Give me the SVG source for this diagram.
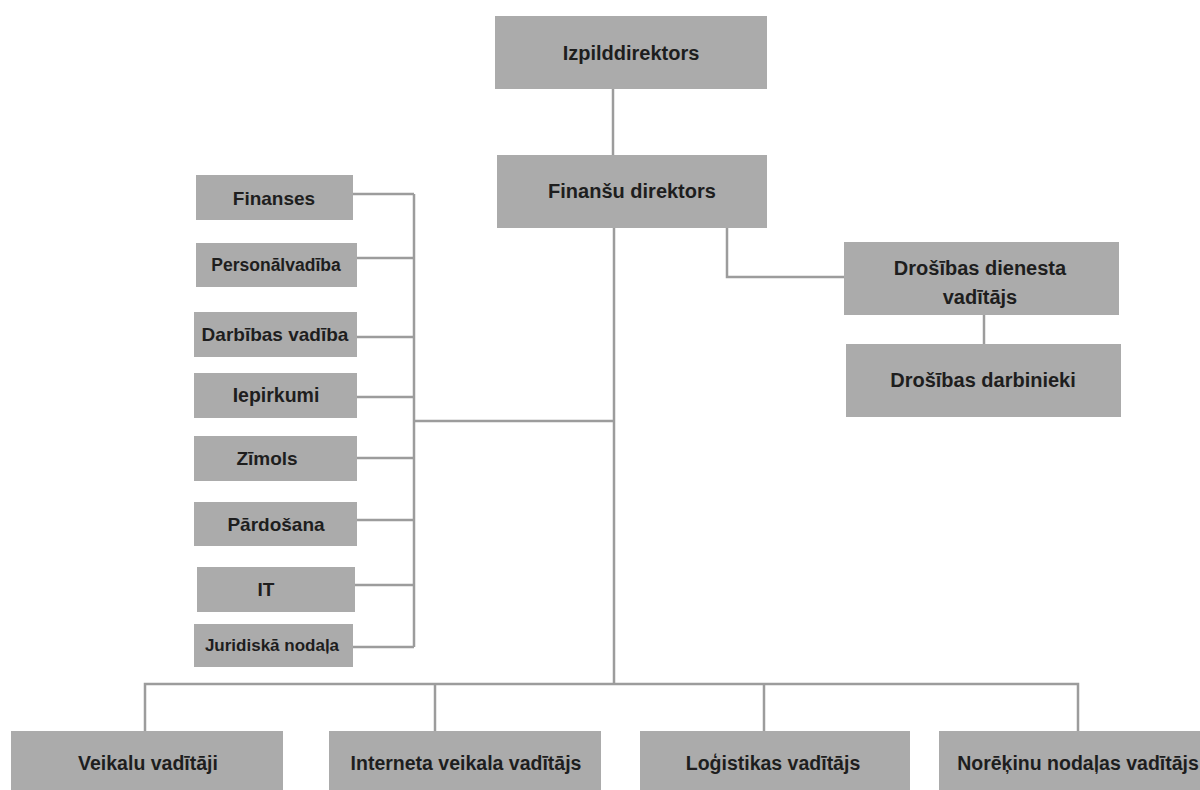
<svg xmlns="http://www.w3.org/2000/svg" width="1200" height="790" viewBox="0 0 1200 790">
<style>
.box{fill:#ababab;}
.t{font-family:"Liberation Sans",Arial,sans-serif;font-weight:bold;fill:#1e1e1e;text-anchor:middle;}
.l{stroke:#9c9c9c;stroke-width:2.5;fill:none;}
</style>
<rect width="1200" height="790" fill="#ffffff"/>
<g id="connectors">
<line class="l" x1="613" y1="89" x2="613" y2="155"/>
<line class="l" x1="614" y1="228" x2="614" y2="684"/>
<polyline class="l" points="727,228 727,277 844,277"/>
<line class="l" x1="984" y1="315" x2="984" y2="344"/>
<line class="l" x1="414" y1="194" x2="414" y2="647"/>
<line class="l" x1="414" y1="421" x2="614" y2="421"/>
<line class="l" x1="353" y1="194" x2="414" y2="194"/>
<line class="l" x1="357" y1="258" x2="414" y2="258"/>
<line class="l" x1="357" y1="337" x2="414" y2="337"/>
<line class="l" x1="357" y1="397" x2="414" y2="397"/>
<line class="l" x1="357" y1="458" x2="414" y2="458"/>
<line class="l" x1="357" y1="520" x2="414" y2="520"/>
<line class="l" x1="355" y1="585" x2="414" y2="585"/>
<line class="l" x1="353" y1="647" x2="414" y2="647"/>
<polyline class="l" points="145,731 145,684 1078,684 1078,731"/>
<line class="l" x1="435" y1="684" x2="435" y2="731"/>
<line class="l" x1="764" y1="684" x2="764" y2="731"/>
</g>
<g id="izpilddirektors"><rect class="box" x="495" y="16" width="272" height="73"/><text class="t" x="631" y="60" font-size="20">Izpilddirektors</text></g>
<g id="finansu-direktors"><rect class="box" x="497" y="155" width="270" height="73"/><text class="t" x="632" y="198" font-size="20">Finanšu direktors</text></g>
<g id="drosibas-vaditajs"><rect class="box" x="844" y="242" width="275" height="73"/><text class="t" x="980" y="275" font-size="20">Drošības dienesta</text><text class="t" x="980" y="304" font-size="20">vadītājs</text></g>
<g id="drosibas-darbinieki"><rect class="box" x="846" y="344" width="275" height="73"/><text class="t" x="983" y="387" font-size="20">Drošības darbinieki</text></g>
<g id="finanses"><rect class="box" x="196" y="175" width="157" height="45"/><text class="t" x="274" y="205" font-size="19">Finanses</text></g>
<g id="personalvadiba"><rect class="box" x="196" y="243" width="161" height="44"/><text class="t" x="276" y="271" font-size="17.5">Personālvadība</text></g>
<g id="darbibas-vadiba"><rect class="box" x="194" y="312" width="163" height="45"/><text class="t" x="275" y="341" font-size="19">Darbības vadība</text></g>
<g id="iepirkumi"><rect class="box" x="194" y="373" width="163" height="45"/><text class="t" x="276" y="402" font-size="19.5">Iepirkumi</text></g>
<g id="zimols"><rect class="box" x="194" y="436" width="163" height="45"/><text class="t" x="267" y="465" font-size="19">Zīmols</text></g>
<g id="pardosana"><rect class="box" x="194" y="502" width="163" height="44"/><text class="t" x="276" y="531" font-size="19">Pārdošana</text></g>
<g id="it"><rect class="box" x="197" y="567" width="158" height="45"/><text class="t" x="266" y="596" font-size="19">IT</text></g>
<g id="juridiska-nodala"><rect class="box" x="194" y="624" width="159" height="43"/><text class="t" x="272" y="651" font-size="17">Juridiskā nodaļa</text></g>
<g id="veikalu-vaditaji"><rect class="box" x="11" y="731" width="272" height="70"/><text class="t" x="148" y="770" font-size="19.5">Veikalu vadītāji</text></g>
<g id="interneta-veikala-vaditajs"><rect class="box" x="329" y="731" width="272" height="70"/><text class="t" x="466" y="770" font-size="19.5">Interneta veikala vadītājs</text></g>
<g id="logistikas-vaditajs"><rect class="box" x="640" y="731" width="270" height="70"/><text class="t" x="773" y="770" font-size="19.5">Loģistikas vadītājs</text></g>
<g id="norekinu-nodalas-vaditajs"><rect class="box" x="939" y="731" width="280" height="70"/><text class="t" x="1078" y="770" font-size="19.5">Norēķinu nodaļas vadītājs</text></g>
</svg>
